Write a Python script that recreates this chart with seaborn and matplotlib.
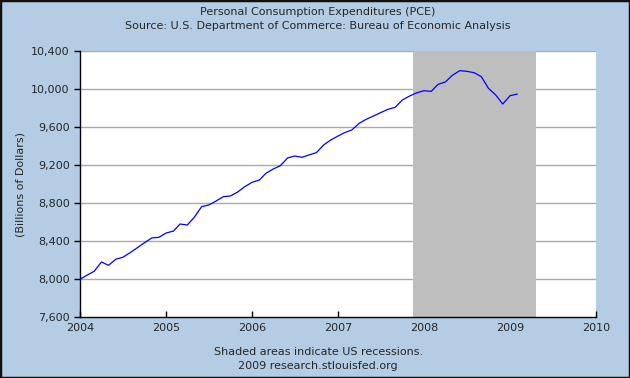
import numpy as np
import pandas as pd
import matplotlib
matplotlib.use("Agg")
import matplotlib.pyplot as plt
import matplotlib.dates as mdates
from matplotlib.patches import Rectangle
from matplotlib.ticker import FuncFormatter
import seaborn as sns

# monthly PCE, billions of dollars, Jan 2004 - Feb 2009
months = pd.date_range("2004-01-01", periods=62, freq="MS")
pce = [
    8000, 8045, 8084, 8182, 8147, 8211, 8232, 8280, 8333, 8385, 8435, 8442,
    8487, 8508, 8582, 8571, 8655, 8765, 8782, 8824, 8870, 8877, 8919, 8975,
    9021, 9045, 9116, 9161, 9196, 9277, 9298, 9284, 9310, 9333, 9414, 9466,
    9508, 9547, 9572, 9642, 9684, 9719, 9754, 9789, 9810, 9887, 9929, 9962,
    9985, 9978, 10052, 10077, 10147, 10196, 10189, 10175, 10133, 10011, 9940, 9845,
    9933, 9950,
]
recession_start = "2007-11-15"
recession_end = "2009-04-20"
year_ticks = [2004, 2005, 2006, 2007, 2008, 2009, 2010]
y_ticks = [7600, 8000, 8400, 8800, 9200, 9600, 10000, 10400]

df = pd.DataFrame({"date": months, "pce": pce})

sns.set_style("white")
plt.rcParams["font.family"] = ["DejaVu Sans"]

bg = "#b4cde4"
fig = plt.figure(figsize=(6.3, 3.78), dpi=100, facecolor=bg)
ax = fig.add_axes([0.127, 0.1606, 0.819, 0.7037])
ax.set_facecolor("white")

ax.axvspan(pd.Timestamp(recession_start), pd.Timestamp(recession_end),
           color="#bebebe", lw=0, zorder=1)
for v in y_ticks[1:]:
    ax.axhline(v, color="#aaaaaa", lw=1, zorder=0.5)

sns.lineplot(data=df, x="date", y="pce", color="#0000ff", lw=0.9, ax=ax, zorder=3)

ax.set_xlim(pd.Timestamp("2004-01-01"), pd.Timestamp("2010-01-01"))
ax.set_ylim(7600, 10400)
ax.set_xticks([pd.Timestamp(f"{y}-01-01") for y in year_ticks])
ax.xaxis.set_major_formatter(mdates.DateFormatter("%Y"))
ax.set_yticks(y_ticks)
ax.yaxis.set_major_formatter(FuncFormatter(lambda v, p: f"{int(v):,}"))

ax.tick_params(axis="x", direction="in", length=4, width=1, color="black",
               labelsize=8, pad=4)
ax.tick_params(axis="y", direction="out", length=4.5, width=1, color="black",
               labelsize=8, pad=3, left=True)
ax.tick_params(axis="x", bottom=True)

for s in ["top", "right"]:
    ax.spines[s].set_visible(False)
for s in ["left", "bottom"]:
    ax.spines[s].set_color("black")
    ax.spines[s].set_linewidth(1)

ax.set_xlabel("")
ax.set_ylabel("(Billions of Dollars)", fontsize=8, labelpad=8)
ax.yaxis.set_label_coords(-0.105, 0.5)

fig.text(0.505, 0.968, "Personal Consumption Expenditures (PCE)",
         ha="center", va="center", fontsize=8)
fig.text(0.505, 0.932, "Source: U.S. Department of Commerce: Bureau of Economic Analysis",
         ha="center", va="center", fontsize=8)
fig.text(0.505, 0.069, "Shaded areas indicate US recessions.",
         ha="center", va="center", fontsize=8)
fig.text(0.505, 0.032, "2009 research.stlouisfed.org",
         ha="center", va="center", fontsize=8)

fig.patches.append(Rectangle((0, 0), 1, 1, transform=fig.transFigure,
                             fill=False, edgecolor="#111111", lw=2.5))

fig.savefig("out.png", dpi=100, facecolor=bg)
